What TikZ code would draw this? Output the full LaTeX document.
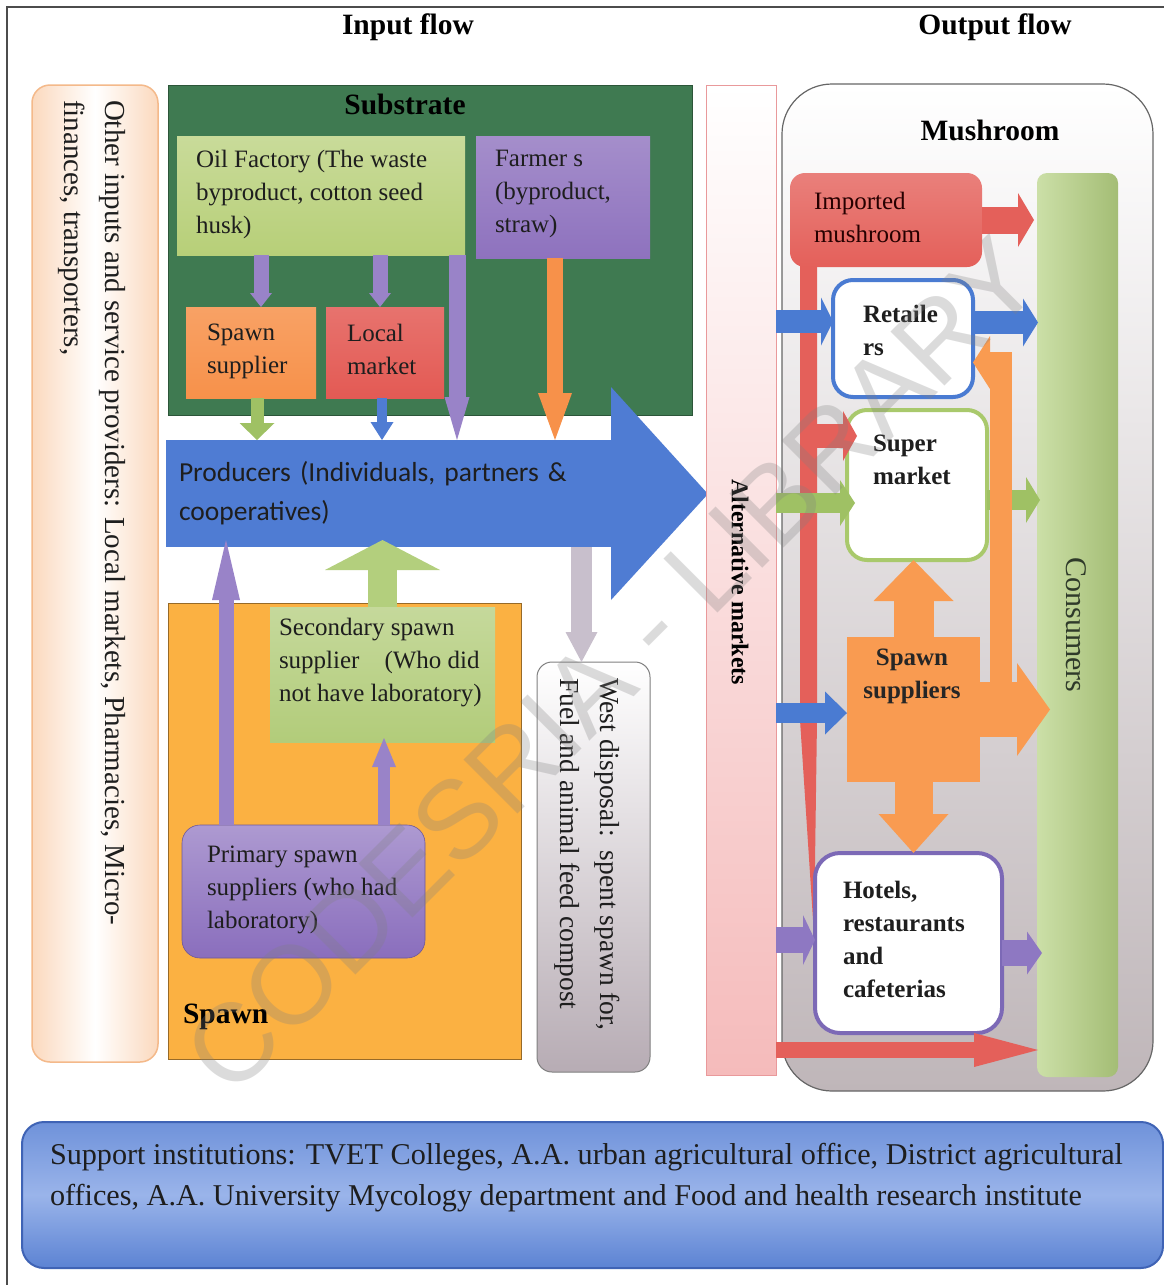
\documentclass[tikz,border=0pt]{standalone}
\usepackage{fontspec}
\setmainfont{Liberation Serif}
\newfontfamily\calfont{Carlito}
\newfontfamily\wmfont{Liberation Sans}
\usetikzlibrary{arrows.meta,calc}
\newcommand\myfs[2]{\fontsize{#1}{#2}\selectfont}
\definecolor{subgreen}{HTML}{3F7A51}
\definecolor{oilgreen}{HTML}{B7CF78}
\definecolor{farmpurple}{HTML}{8E72BE}
\definecolor{ssorange}{HTML}{F7914A}
\definecolor{lmred}{HTML}{E35A54}
\definecolor{prodblue}{HTML}{4F7CD3}
\definecolor{spawnyel}{HTML}{FBB142}
\definecolor{secgreen}{HTML}{B2CC7A}
\definecolor{secarrow}{HTML}{B3CF7D}
\definecolor{primpurple}{HTML}{8A6EBD}
\definecolor{arrpurple}{HTML}{9983C8}
\definecolor{wastegrey}{HTML}{B7ACB4}
\definecolor{greyarr}{HTML}{C8BFCC}
\definecolor{altpink}{HTML}{F5BBBB}
\definecolor{altline}{HTML}{E9999B}
\definecolor{mushgrey}{HTML}{BFB6B9}
\definecolor{consgreen}{HTML}{B6D282}
\definecolor{constext}{HTML}{2F3A2A}
\definecolor{impred}{HTML}{E4605A}
\definecolor{retblue}{HTML}{4A7BD2}
\definecolor{smgreen}{HTML}{A9C96C}
\definecolor{greenarr}{HTML}{9FC164}
\definecolor{supor}{HTML}{F99B51}
\definecolor{hotpurple}{HTML}{7C69B6}
\definecolor{hotarr}{HTML}{8E78C2}
\definecolor{supA}{HTML}{6F92DA}
\definecolor{supB}{HTML}{5C83D3}
\definecolor{supC}{HTML}{9AB4EA}
\definecolor{supline}{HTML}{3F63B5}
\definecolor{peach}{HTML}{FBD9BE}
\definecolor{peachline}{HTML}{F4B98A}
\definecolor{txtdark}{HTML}{1E1E1E}
\begin{document}
\begin{tikzpicture}[x=1pt,y=-1pt,
  every node/.style={inner sep=0pt, outer sep=0pt},
  box/.style={anchor=north west, inner sep=0pt},
  lbl/.style={anchor=north west, align=left, inner sep=0pt, text=txtdark, font=\myfs{25}{33}},
  blbl/.style={anchor=north west, align=left, inner sep=0pt, text=txtdark, font=\myfs{25}{33}\bfseries},
  title/.style={font=\myfs{29.5}{34}\bfseries, text=black},
  fat/.style n args={4}{draw=#1, line width=#2, -{Triangle[width=#3, length=#4, line width=0pt]}},
]
\useasboundingbox (0,0) rectangle (1164,1285);
\fill[white] (0,0) rectangle (1164,1285);
\draw[line width=1.2pt, black!70] (7,1285) -- (7,7) -- (1164,7);

% titles
\node[title] (tin) at (408,27) {Input flow};
\node[title] (tout) at (995,27) {Output flow};

% other inputs
\node[box, minimum width=126pt, minimum height=977pt, rounded corners=18pt, draw=peachline, line width=1.5pt, left color=peach, right color=peach, middle color=white] (other) at (32,85) {};
\node[lbl, font=\myfs{29}{41}, rotate=-90] (othert) at (126,100) {Other inputs and service providers: Local markets, Pharmacies, Micro-\\finances, transporters,};

% substrate
\node[box, minimum width=524pt, minimum height=330pt, fill=subgreen, draw=subgreen!70!black, line width=0.8pt] (sub) at (168,85) {};
\node[title] (subt) at (405,104) {Substrate};
\node[box, minimum width=288pt, minimum height=119pt, top color=oilgreen!75!white, bottom color=oilgreen] (oil) at (177,136) {};
\node[lbl] (oilt) at (196,150) {Oil Factory (The waste\\byproduct, cotton seed\\husk)};
\node[box, minimum width=174pt, minimum height=122pt, top color=farmpurple!80!white, bottom color=farmpurple] (farm) at (476,136) {};
\node[lbl] (farmt) at (495,150) {Farmer s\\(byproduct,\\straw)};
\node[box, minimum width=130pt, minimum height=91pt, top color=ssorange!85!white, bottom color=ssorange] (ss) at (186,307) {};
\node[lbl] (sst) at (207,324) {Spawn\\supplier};
\node[box, minimum width=118pt, minimum height=91pt, top color=lmred!85!white, bottom color=lmred] (lm) at (326,307) {};
\node[lbl] (lmt) at (347,324) {Local\\market};

% producers
\fill[prodblue] (611,387) -- (708,494) -- (611,600) -- cycle;
\node[box, minimum width=446pt, minimum height=107pt, fill=prodblue, text width=420pt, align=left, inner xsep=12pt, font=\calfont\myfs{27.5}{39}, text=txtdark] (prod) at (166,440) {Producers (Individuals, partners \&\\cooperatives)};

% substrate arrows
\draw[fat={arrpurple}{15pt}{22pt}{14pt}] ([xshift=10pt]ss.north |- oil.south) -- ([xshift=10pt]ss.north);
\draw[fat={arrpurple}{15pt}{22pt}{14pt}] ([xshift=-5pt]lm.north |- oil.south) -- ([xshift=-5pt]lm.north);
\coordinate (o3) at ($(oil.south east)+(-8,0)$);
\draw[fat={arrpurple}{17pt}{25pt}{43pt}] (o3) -- (o3 |- prod.north);
\coordinate (f3) at ($(farm.south)+(-8,0)$);
\draw[fat={ssorange}{16pt}{34pt}{47pt}] (f3) -- (f3 |- prod.north);
\coordinate (s3) at ($(ss.south)+(6,0)$);
\draw[fat={greenarr}{13pt}{35pt}{17pt}] (s3) -- (s3 |- prod.north);
\coordinate (l3) at ($(lm.south)+(-3,0)$);
\draw[fat={prodblue}{10pt}{23pt}{18pt}] (l3) -- (l3 |- prod.north);

% spawn
\node[box, minimum width=353pt, minimum height=456pt, fill=spawnyel, draw=spawnyel!60!black, line width=0.6pt] (spawn) at (168,603) {};
\node[title, anchor=west] (spawnt) at (183,1017) {Spawn};
\node[box, minimum width=225pt, minimum height=135pt, top color=secgreen!75!white, bottom color=secgreen] (sec) at (270,607) {};
\node[lbl] (sect) at (279,618) {Secondary spawn\\supplier\quad (Who did\\not have laboratory)};
\node[box, minimum width=243pt, minimum height=133pt, rounded corners=18pt, top color=primpurple!70!white, bottom color=primpurple, draw=primpurple!80!black, line width=0.6pt] (prim) at (182,825) {};
\node[lbl] (primt) at (207,846) {Primary spawn\\suppliers (who had\\laboratory)};
\draw[fat={secarrow}{29pt}{115pt}{30pt}] (sec.north) -- ($(sec.north |- prod.south)+(0,-7)$);
\coordinate (p1) at ($(prim.north west)+(44,0)$);
\draw[fat={arrpurple}{15pt}{28pt}{60pt}] (p1) -- ($(p1 |- prod.south)+(0,-7)$);
\coordinate (p2) at ($(prim.north west)+(202,0)$);
\draw[fat={arrpurple}{12pt}{24pt}{29pt}] (p2) -- ($(p2 |- sec.south)+(0,-4)$);

% waste disposal
\node[box, minimum width=113pt, minimum height=410pt, rounded corners=15pt, top color=white, bottom color=wastegrey, draw=gray, line width=1pt] (waste) at (537,662) {};
\node[lbl, font=\myfs{27.5}{40}, rotate=-90] (wastet) at (620,678) {West disposal:\ \ spent spawn for,\\Fuel and animal feed compost};
\coordinate (g1) at ($(waste.north)+(-12,0)$);
\draw[fat={greyarr}{21pt}{32pt}{30pt}] (g1 |- prod.south) -- (g1);

% alternative markets
\node[box, minimum width=70pt, minimum height=990pt, top color=white, bottom color=altpink, draw=altline, line width=1pt] (alt) at (706,85) {};
\node[font=\myfs{24}{28}\bfseries, rotate=-90] (altt) at (740,582) {Alternative markets};

% mushroom
\node[box, minimum width=371pt, minimum height=1007pt, rounded corners=50pt, top color=white, bottom color=mushgrey, draw=black!60, line width=1.2pt] (mush) at (782,84) {};
\node[title] (musht) at (990,130) {Mushroom};
\node[box, minimum width=81pt, minimum height=904pt, rounded corners=10pt, left color=consgreen!70!white, right color=consgreen!90!black] (cons) at (1037,173) {};
\node[font=\myfs{30}{34}, rotate=-90, text=constext] (const) at (1076,625) {Consumers};

% imported
\fill[impred] (800,262) -- (817,262) -- (817,720) -- (814,935) -- (800,720) -- cycle;
\node[box, minimum width=192pt, minimum height=94pt, rounded corners=15pt, top color=impred!80!white, bottom color=impred] (imp) at (790,173) {};
\node[lbl, text=black!85!red] (impt) at (814,192) {Imported\\mushroom};
\draw[fat={impred}{27pt}{54pt}{16pt}] (imp.east) -- ($(imp.east -| cons.west)+(-3,0)$);

% retailers
\node[box, minimum width=140pt, minimum height=117pt, rounded corners=20pt, fill=white, draw=retblue, line width=4pt] (ret) at (833,280) {};
\node[blbl] (rett) at (863,305) {Retaile\\rs};
\coordinate (b1) at ($(ret.west)+(0,-17)$);
\draw[fat={retblue}{23pt}{48pt}{12pt}] (alt.east |- b1) -- (b1);
\coordinate (b2) at ($(ret.east)+(0,-16)$);
\draw[fat={retblue}{23pt}{48pt}{15pt}] (b2) -- ($(b2 -| cons.west)+(1,0)$);

% super market
\node[box, minimum width=140pt, minimum height=150pt, rounded corners=20pt, fill=white, draw=smgreen, line width=4pt] (sm) at (847,410) {};
\node[blbl] (smt) at (873,435) {Super\\market};
\coordinate (rb) at (808,436);
\draw[fat={impred}{24pt}{50pt}{14pt}] (rb) -- ($(rb -| sm.west)+(10,0)$);
\coordinate (gr1) at ($(sm.west)+(8,18)$);
\draw[fat={greenarr}{20pt}{46pt}{15pt}] (alt.east |- gr1) -- (gr1);
\coordinate (gr2) at ($(sm.east)+(0,15)$);
\draw[fat={greenarr}{20pt}{46pt}{14pt}] (gr2) -- ($(gr2 -| cons.west)+(3,0)$);

% hotels
\node[box, minimum width=187pt, minimum height=180pt, rounded corners=25pt, fill=white, draw=hotpurple, line width=4pt] (hot) at (815,853) {};
\node[blbl] (hott) at (843,881) {Hotels,\\restaurants\\and\\cafeterias};

% spawn suppliers
\node[box, minimum width=133pt, minimum height=145pt, fill=supor] (ssup) at (847,637) {};
\draw[fat={supor}{40pt}{80pt}{41pt}] (ssup.north) -- (ssup.north |- sm.south);
\draw[fat={supor}{38pt}{70pt}{39pt}] (ssup.south) -- (ssup.south |- hot.north);
\draw[fat={supor}{55pt}{93pt}{33pt}] (ssup.east) -- ($(ssup.east -| cons.west)+(13,0)$);
\coordinate (o1) at ($(ssup.north east)+(21,60)$);
\coordinate (o2) at ($(ret.east)+(0,24)$);
\draw[fat={supor}{22pt}{53pt}{17pt}] (o1) |- (o2);
\node[font=\myfs{25}{33}\bfseries, align=center, anchor=north, text=black!85] (ssupt) at (912,649) {Spawn\\suppliers};
\coordinate (b3) at ($(ssup.west)+(0,3.5)$);
\draw[fat={retblue}{20pt}{43pt}{22pt}] (alt.east |- b3) -- (b3);

% hotels arrows
\coordinate (h1) at ($(hot.west)+(0,-3)$);
\draw[fat={hotarr}{26pt}{50pt}{12pt}] (alt.east |- h1) -- (h1);
\coordinate (h2) at ($(hot.east)+(0,10)$);
\draw[fat={hotarr}{26pt}{43pt}{15pt}] (h2) -- ($(h2 -| cons.west)+(5,0)$);
\coordinate (r3) at ($(alt.east)+(0,470)$);
\draw[fat={impred}{16pt}{34pt}{64pt}] (r3) -- ($(r3 -| cons.west)+(1,0)$);

% support institutions
\node[box, minimum width=1141pt, minimum height=146pt, rounded corners=22pt, top color=supA, bottom color=supB, middle color=supC, draw=supline, line width=2pt] (sup) at (22,1122) {};
\node[lbl, font=\myfs{30.2}{41}] (supt) at (50,1143) {Support institutions: TVET Colleges, A.A. urban agricultural office, District agricultural\\offices, A.A. University Mycology department and Food and health research institute};

% watermark
\node[font=\wmfont\myfs{111}{120}, text=gray, text opacity=0.28, rotate=45] (wm) at (612,665) {CODESRIA - LIBRARY};
\end{tikzpicture}
\end{document}
